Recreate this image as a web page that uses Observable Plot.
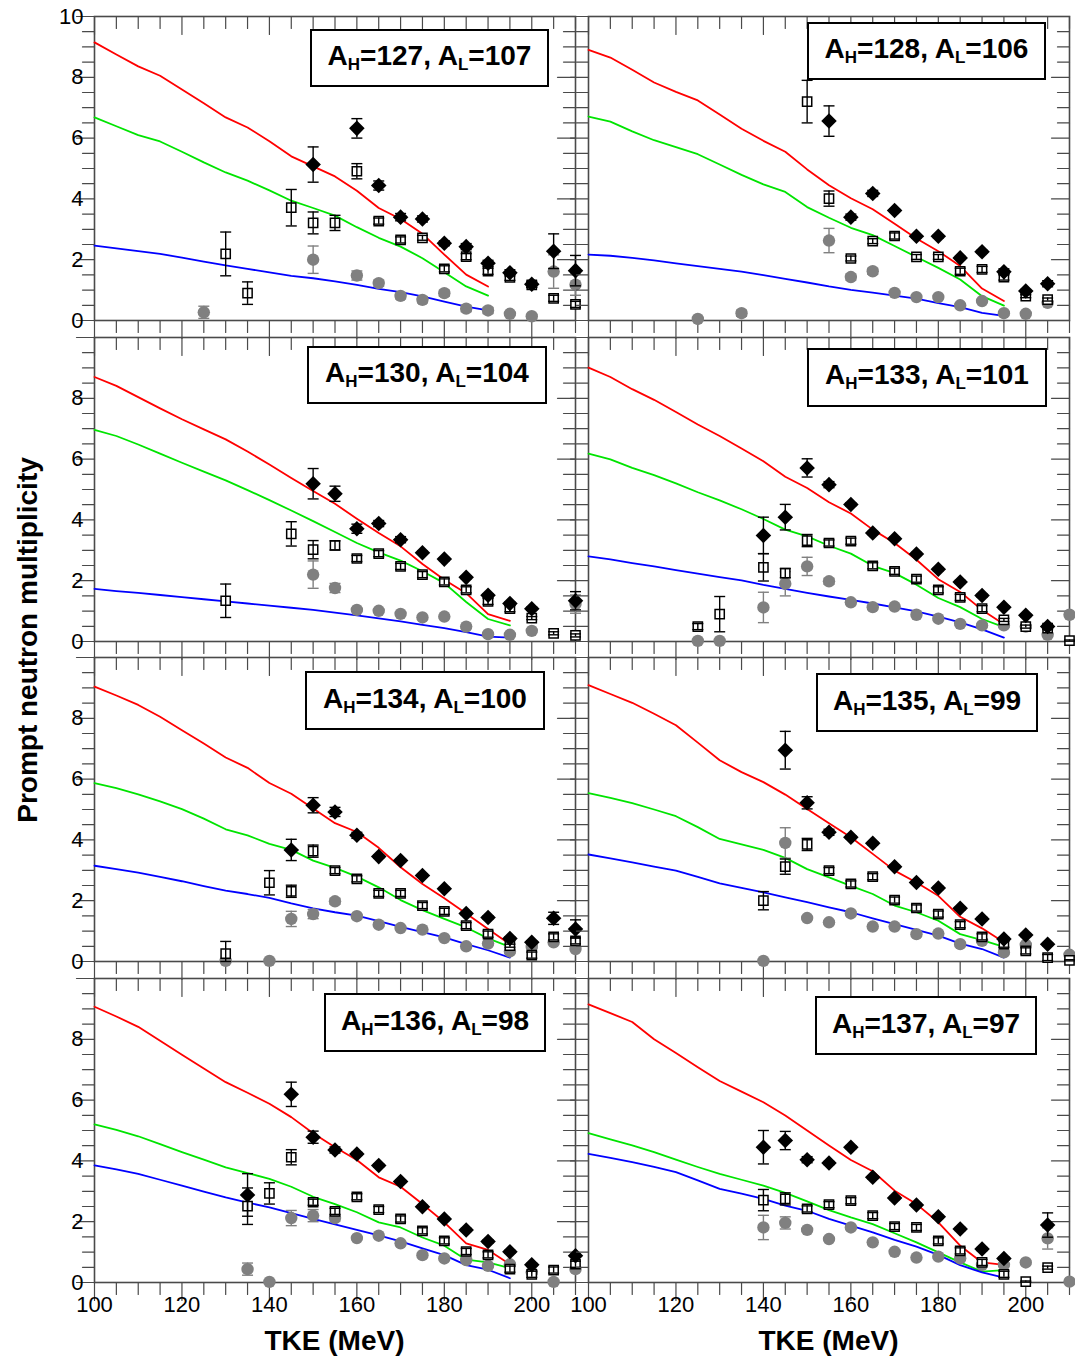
<!DOCTYPE html>
<html><head><meta charset="utf-8">
<script src="https://cdn.jsdelivr.net/npm/d3@7"></script>
<script src="https://cdn.jsdelivr.net/npm/@observablehq/plot@0.6"></script>
<style>
body{margin:0;background:#fff;}
#wrap{position:relative;width:1075px;height:1358px;overflow:hidden;font-family:"Liberation Sans",Arial,sans-serif;background:#fff;}
.panel{position:absolute;overflow:visible;}
.panel svg{max-width:none !important;overflow:visible;}
.tag{position:absolute;border:2px solid #000;background:#fff;box-sizing:border-box;display:flex;align-items:center;justify-content:center;font-weight:bold;font-size:28px;white-space:nowrap;color:#000;padding-bottom:4px;}
.tag .sb{font-size:17px;position:relative;top:9px;}
.xtitle{position:absolute;font-weight:bold;font-size:28px;text-align:center;line-height:32px;height:32px;color:#000;}
.ytitle{position:absolute;font-weight:bold;font-size:28px;text-align:center;line-height:34px;height:34px;width:420px;transform:rotate(-90deg);color:#000;}
</style></head><body><div id="wrap"></div>
<script>
// ---------- data ----------
const heavyMass = [127, 128, 130, 133, 134, 135, 136, 137];
const lightMass = [107, 106, 104, 101, 100, 99, 98, 97];
const xTickLabels = [100, 120, 140, 160, 180, 200];
const yTickLabels = [0, 2, 4, 6, 8, 10];
const xAxisTitle = "TKE (MeV)";
const yAxisTitle = "Prompt neutron multiplicity";

const lineTKE = [100,105,110,115,120,125,130,135,140,145,150,155,160,165,170,175,180,185,190,195];

const redCurves = [
  [9.15,8.75,8.36,8.05,7.60,7.15,6.68,6.35,5.90,5.40,5.07,4.74,4.27,3.70,3.34,2.85,2.17,1.51,1.12],
  [8.90,8.65,8.25,7.83,7.52,7.24,6.78,6.31,5.91,5.55,4.97,4.45,4.02,3.66,3.18,2.70,2.28,1.79,1.05,0.64],
  [8.70,8.41,8.04,7.67,7.31,6.98,6.65,6.25,5.82,5.38,4.95,4.53,4.04,3.57,3.13,2.55,2.03,1.59,0.90,0.68],
  [9.01,8.70,8.30,7.95,7.55,7.14,6.76,6.35,5.93,5.42,5.05,4.58,4.21,3.68,3.24,2.69,2.05,1.63,1.04,0.57],
  [9.04,8.75,8.44,8.05,7.61,7.17,6.71,6.37,5.87,5.52,5.03,4.55,4.26,3.74,3.10,2.55,2.08,1.58,1.07,0.57],
  [9.09,8.80,8.51,8.15,7.77,7.20,6.62,6.23,5.90,5.49,5.02,4.55,4.09,3.54,2.99,2.60,2.16,1.47,1.09,0.63],
  [9.07,8.75,8.41,7.95,7.49,7.04,6.59,6.24,5.88,5.44,4.91,4.45,4.03,3.46,3.15,2.58,1.98,1.29,1.07,0.60],
  [9.15,8.86,8.57,8.00,7.55,7.08,6.63,6.28,5.93,5.49,5.00,4.51,4.03,3.66,3.02,2.58,1.98,1.21,0.66,0.58]
];
const greenCurves = [
  [6.68,6.39,6.10,5.89,5.55,5.20,4.87,4.60,4.28,3.94,3.70,3.45,3.07,2.72,2.43,2.05,1.59,1.12,0.82],
  [6.71,6.54,6.22,5.93,5.70,5.47,5.13,4.79,4.48,4.23,3.73,3.38,3.05,2.81,2.45,2.09,1.73,1.35,0.80,0.49],
  [6.96,6.76,6.48,6.18,5.88,5.59,5.30,4.98,4.65,4.31,3.96,3.60,3.24,2.93,2.66,2.31,1.92,1.30,0.74,0.53],
  [6.18,5.99,5.71,5.47,5.20,4.91,4.64,4.35,4.03,3.68,3.46,3.15,2.89,2.49,2.25,1.87,1.43,1.13,0.74,0.47],
  [5.87,5.70,5.50,5.27,5.01,4.70,4.35,4.15,3.87,3.67,3.32,3.08,2.79,2.44,2.02,1.69,1.40,1.12,0.76,0.48],
  [5.54,5.38,5.21,5.00,4.78,4.42,4.03,3.85,3.67,3.41,3.04,2.77,2.49,2.22,1.84,1.62,1.34,0.90,0.70,0.48],
  [5.20,5.02,4.81,4.55,4.29,4.04,3.79,3.60,3.41,3.15,2.82,2.58,2.31,1.98,1.81,1.48,1.21,0.75,0.66,0.47],
  [4.91,4.71,4.51,4.29,4.04,3.80,3.57,3.38,3.19,2.95,2.67,2.38,2.14,1.92,1.62,1.32,0.99,0.66,0.36,0.41]
];
const blueCurves = [
  [2.46,2.37,2.28,2.19,2.07,1.94,1.81,1.70,1.58,1.47,1.39,1.29,1.17,1.04,0.93,0.79,0.62,0.46,0.33],
  [2.17,2.13,2.06,1.98,1.88,1.79,1.70,1.61,1.49,1.37,1.25,1.12,1.01,0.92,0.82,0.72,0.57,0.44,0.25,0.15],
  [1.73,1.66,1.60,1.53,1.46,1.39,1.32,1.25,1.18,1.11,1.04,0.95,0.86,0.76,0.66,0.55,0.44,0.31,0.16,0.13],
  [2.80,2.70,2.58,2.47,2.35,2.23,2.12,2.01,1.86,1.73,1.60,1.48,1.37,1.25,1.12,0.99,0.82,0.63,0.40,0.13],
  [3.15,3.04,2.92,2.78,2.64,2.48,2.33,2.22,2.09,1.91,1.75,1.62,1.51,1.33,1.14,0.97,0.79,0.57,0.37,0.13],
  [3.52,3.39,3.26,3.12,2.99,2.78,2.57,2.42,2.27,2.11,1.95,1.78,1.62,1.42,1.23,1.04,0.85,0.59,0.41,0.13],
  [3.85,3.72,3.57,3.38,3.19,2.99,2.80,2.63,2.47,2.28,2.09,1.91,1.73,1.55,1.35,1.12,0.90,0.57,0.42,0.14],
  [4.23,4.10,3.96,3.80,3.63,3.36,3.08,2.92,2.75,2.53,2.36,2.09,1.87,1.65,1.40,1.18,0.91,0.57,0.33,0.16]
];

// [TKE, multiplicity, error]
const diamonds127 = [[150,5.13,0.58],[160,6.32,0.32],[165,4.44,0.15],[170,3.40,0.12],[175,3.34,0.1],[180,2.54,0.08],[185,2.43,0.1],[190,1.88,0.1],[195,1.57,0.1],[200,1.19,0.1],[205,2.28,0.57],[210,1.64,0.5]];
const squares127 = [[130,2.19,0.72],[135,0.90,0.37],[145,3.71,0.6],[150,3.21,0.36],[155,3.21,0.25],[160,4.91,0.25],[165,3.27,0.1],[170,2.65,0.1],[175,2.72,0.08],[180,1.70,0.1],[185,2.10,0.1],[190,1.62,0.1],[195,1.42,0.1],[200,1.17,0.08],[205,0.73,0.1],[210,0.53,0.1]];
const circles127 = [[125,0.27,0.2],[150,2.00,0.45],[160,1.48,0.15],[165,1.23,0.1],[170,0.81,0.1],[175,0.68,0.1],[180,0.90,0.1],[185,0.39,0.1],[190,0.33,0.1],[195,0.22,0.05],[200,0.14,0.05],[205,1.61,0.55],[210,1.18,0.35]];

const diamonds128 = [[155,6.56,0.5],[160,3.40,0.1],[165,4.18,0.1],[170,3.62,0.05],[175,2.77,0.05],[180,2.77,0.05],[185,2.06,0.05],[190,2.26,0.05],[195,1.60,0.1],[200,0.97,0.05],[205,1.21,0.1]];
const squares128 = [[150,7.20,0.7],[155,4.01,0.25],[160,2.04,0.08],[165,2.61,0.08],[170,2.78,0.1],[175,2.09,0.08],[180,2.09,0.08],[185,1.62,0.1],[190,1.68,0.1],[195,1.43,0.1],[200,0.80,0.05],[205,0.69,0.05]];
const circles128 = [[125,0.05,0.03],[135,0.24,0.1],[155,2.63,0.4],[160,1.43,0.1],[165,1.62,0.1],[170,0.91,0.05],[175,0.77,0.05],[180,0.77,0.05],[185,0.50,0.05],[190,0.64,0.05],[195,0.24,0.05],[200,0.22,0.05],[205,0.58,0.05]];

const diamonds130 = [[150,5.19,0.5],[155,4.86,0.25],[160,3.71,0.15],[165,3.88,0.1],[170,3.35,0.1],[175,2.92,0.05],[180,2.71,0.05],[185,2.11,0.05],[190,1.52,0.05],[195,1.25,0.05],[200,1.08,0.05],[210,1.34,0.3]];
const squares130 = [[130,1.34,0.55],[145,3.54,0.4],[150,3.02,0.3],[155,3.16,0.15],[160,2.73,0.1],[165,2.89,0.1],[170,2.47,0.1],[175,2.20,0.1],[180,1.96,0.1],[185,1.70,0.1],[190,1.32,0.1],[195,1.08,0.1],[200,0.77,0.05],[205,0.27,0.05],[210,0.20,0.05]];
const circles130 = [[150,2.20,0.45],[155,1.76,0.15],[160,1.04,0.05],[165,1.01,0.05],[170,0.91,0.05],[175,0.79,0.05],[180,0.82,0.05],[185,0.49,0.05],[190,0.24,0.05],[195,0.22,0.05],[200,0.35,0.05],[210,1.23,0.3]];

const diamonds133 = [[140,3.49,0.6],[145,4.09,0.42],[150,5.71,0.3],[155,5.16,0.1],[160,4.51,0.05],[165,3.57,0.05],[170,3.38,0.05],[175,2.88,0.05],[180,2.38,0.05],[185,1.96,0.05],[190,1.51,0.05],[195,1.13,0.05],[200,0.86,0.05],[205,0.49,0.05]];
const squares133 = [[125,0.49,0.1],[130,0.90,0.58],[140,2.44,0.45],[145,2.25,0.15],[150,3.32,0.2],[155,3.24,0.1],[160,3.30,0.1],[165,2.49,0.1],[170,2.31,0.1],[175,2.05,0.1],[180,1.70,0.1],[185,1.45,0.1],[190,1.08,0.1],[195,0.71,0.05],[200,0.49,0.05],[205,0.44,0.05],[210,0.03,0.02]];
const circles133 = [[125,0.02,0],[130,0.02,0],[140,1.12,0.5],[145,1.90,0.4],[150,2.47,0.3],[155,1.98,0.1],[160,1.29,0.05],[165,1.13,0.05],[170,1.15,0.05],[175,0.88,0.05],[180,0.75,0.05],[185,0.58,0.05],[190,0.53,0.05],[195,0.53,0.05],[200,0.49,0.05],[205,0.22,0.05],[210,0.88,0.05]];

const diamonds134 = [[145,3.67,0.35],[150,5.14,0.25],[155,4.92,0.15],[160,4.15,0.1],[165,3.45,0.05],[170,3.32,0.05],[175,2.83,0.05],[180,2.39,0.05],[185,1.58,0.05],[190,1.45,0.05],[195,0.76,0.05],[200,0.63,0.05],[205,1.42,0.2],[210,1.07,0.3]];
const squares134 = [[130,0.26,0.4],[140,2.59,0.4],[145,2.31,0.2],[150,3.63,0.2],[155,2.99,0.1],[160,2.72,0.1],[165,2.24,0.1],[170,2.24,0.1],[175,1.84,0.1],[180,1.65,0.1],[185,1.18,0.1],[190,0.90,0.1],[195,0.52,0.05],[200,0.21,0.1],[205,0.81,0.1],[210,0.68,0.1]];
const circles134 = [[130,0.02,0],[140,0.02,0],[145,1.40,0.25],[150,1.56,0.15],[155,1.98,0.1],[160,1.49,0.05],[165,1.21,0.05],[170,1.10,0.05],[175,1.05,0.05],[180,0.77,0.05],[185,0.50,0.05],[190,0.59,0.05],[195,0.33,0.05],[200,0.48,0.05],[205,0.63,0.05],[210,0.41,0.05]];

const diamonds135 = [[145,6.95,0.62],[150,5.22,0.2],[155,4.25,0.1],[160,4.09,0.05],[165,3.89,0.05],[170,3.12,0.05],[175,2.60,0.05],[180,2.42,0.05],[185,1.75,0.05],[190,1.40,0.05],[195,0.74,0.05],[200,0.87,0.05],[205,0.57,0.05]];
const squares135 = [[140,2.00,0.3],[145,3.12,0.25],[150,3.85,0.2],[155,2.99,0.1],[160,2.55,0.1],[165,2.79,0.1],[170,2.02,0.1],[175,1.76,0.1],[180,1.56,0.1],[185,1.21,0.1],[190,0.81,0.1],[195,0.57,0.1],[200,0.35,0.1],[205,0.13,0.1],[210,0.04,0.02]];
const circles135 = [[140,0.02,0],[145,3.90,0.5],[150,1.43,0.05],[155,1.29,0.05],[160,1.58,0.05],[165,1.15,0.05],[170,1.15,0.05],[175,0.90,0.05],[180,0.92,0.05],[185,0.57,0.05],[190,0.68,0.05],[195,0.30,0.05],[200,0.55,0.05],[210,0.22,0.05]];

const diamonds136 = [[135,2.88,0.7],[145,6.19,0.4],[150,4.78,0.2],[155,4.36,0.1],[160,4.23,0.05],[165,3.85,0.05],[170,3.32,0.05],[175,2.49,0.05],[180,2.09,0.05],[185,1.73,0.05],[190,1.35,0.05],[195,1.01,0.05],[200,0.58,0.05],[210,0.88,0.05]];
const squares136 = [[135,2.51,0.6],[140,2.93,0.35],[145,4.12,0.25],[150,2.64,0.1],[155,2.34,0.1],[160,2.82,0.1],[165,2.40,0.1],[170,2.09,0.1],[175,1.70,0.1],[180,1.37,0.1],[185,1.02,0.1],[190,0.91,0.1],[195,0.44,0.1],[200,0.27,0.1],[205,0.41,0.1],[210,0.60,0.1]];
const circles136 = [[135,0.44,0.2],[140,0.02,0],[145,2.12,0.25],[150,2.20,0.2],[155,2.12,0.1],[160,1.46,0.05],[165,1.54,0.05],[170,1.29,0.05],[175,0.90,0.05],[180,0.79,0.05],[185,0.74,0.05],[190,0.55,0.05],[195,0.60,0.05],[200,0.33,0.05],[205,0.02,0],[210,0.44,0.05]];

const diamonds137 = [[140,4.45,0.55],[145,4.67,0.3],[150,4.04,0.1],[155,3.93,0.05],[160,4.45,0.05],[165,3.46,0.05],[170,2.78,0.05],[175,2.55,0.05],[180,2.16,0.05],[185,1.76,0.05],[190,1.10,0.05],[195,0.79,0.05],[205,1.89,0.4]];
const squares137 = [[140,2.71,0.35],[145,2.75,0.2],[150,2.42,0.1],[155,2.56,0.1],[160,2.69,0.1],[165,2.20,0.1],[170,1.84,0.1],[175,1.81,0.1],[180,1.37,0.1],[185,1.04,0.1],[190,0.66,0.1],[195,0.27,0.1],[200,0.03,0.02],[205,0.49,0.05]];
const circles137 = [[140,1.81,0.4],[145,1.96,0.2],[150,1.73,0.05],[155,1.43,0.05],[160,1.81,0.05],[165,1.32,0.05],[170,1.01,0.05],[175,0.82,0.05],[180,0.85,0.05],[185,0.79,0.05],[190,0.58,0.05],[195,0.58,0.05],[200,0.66,0.05],[205,1.45,0.35],[210,0.03,0]];

const diamondSets = [diamonds127, diamonds128, diamonds130, diamonds133, diamonds134, diamonds135, diamonds136, diamonds137];
const squareSets  = [squares127, squares128, squares130, squares133, squares134, squares135, squares136, squares137];
const circleSets  = [circles127, circles128, circles130, circles133, circles134, circles135, circles136, circles137];

// ---------- layout / style ----------
const COLX = [94, 588];
const ROWY = [16, 336.7, 657.3, 978];
const FW = 481, FH = 304;
const tagBoxes = [
  {l:216,t:13,w:239,h:58},{l:219,t:6,w:239,h:58},
  {l:213,t:9,w:240,h:58},{l:219,t:11,w:240,h:59},
  {l:211,t:14,w:240,h:59},{l:228,t:16,w:222,h:59},
  {l:230,t:15,w:222,h:59},{l:227,t:18,w:222,h:59}
];
const FONT = "'Liberation Sans', Arial, sans-serif";
const AXIS = "#4a4a4a";
const RED = "#ff0000", GREEN = "#00e400", BLUE = "#0000ff", GRAY = "#808080";

const xMinor = d3.range(100, 210.1, 5);
const yMinor = d3.range(0, 10.01, 0.5);

const tickShape = {draw(ctx, l) { ctx.moveTo(0, 0); ctx.lineTo(0, -l); }};
const capSymbol = {draw(ctx) { ctx.moveTo(-5.5, 0); ctx.lineTo(5.5, 0); }};

function toRows(set) {
  return set.map(([x, y, e]) => ({x, y, e, lo: Math.max(0, y - e), hi: y + e}));
}
function curveRows(vals) {
  return vals.map((v, i) => ({x: lineTKE[i], y: v}));
}
function errorMarks(rows, color) {
  const r = rows.filter(d => d.e > 0);
  return [
    Plot.ruleX(r, {x: "x", y1: "lo", y2: "hi", stroke: color, strokeWidth: 1.4}),
    Plot.dot(r, {x: "x", y: "hi", symbol: capSymbol, r: 5, fill: "none", stroke: color, strokeWidth: 1.4}),
    Plot.dot(r, {x: "x", y: "lo", symbol: capSymbol, r: 5, fill: "none", stroke: color, strokeWidth: 1.4})
  ];
}

const wrap = document.getElementById("wrap");

for (let i = 0; i < 8; i++) {
  const col = i % 2, row = Math.floor(i / 2);
  const mL = col === 0 ? 62 : 14, mR = 14;
  const mT = row === 0 ? 16 : 14, mB = row === 3 ? 44 : 14;
  const yLabs = row === 0 ? yTickLabels : yTickLabels.filter(v => v < 10);

  const circ = toRows(circleSets[i]);
  const sq = toRows(squareSets[i]);
  const dia = toRows(diamondSets[i]);

  const marks = [
    // inward ticks: top and right
    Plot.vector(xMinor, {x: d => d, frameAnchor: "top", length: d => d % 20 === 0 ? 6 : 4, rotate: 180, anchor: "start", shape: tickShape, stroke: AXIS, strokeWidth: 1.2}),
    Plot.vector(yMinor, {y: d => d, frameAnchor: "right", length: d => d % 2 === 0 ? 6 : 4, rotate: -90, anchor: "start", shape: tickShape, stroke: AXIS, strokeWidth: 1.2}),
    // outward ticks: bottom and left
    Plot.vector(xMinor, {x: d => d, frameAnchor: "bottom", length: d => d % 20 === 0 ? 6 : 4, rotate: 180, anchor: "start", shape: tickShape, stroke: AXIS, strokeWidth: 1.2}),
    Plot.vector(yMinor, {y: d => d, frameAnchor: "left", length: d => d % 2 === 0 ? 6 : 4, rotate: -90, anchor: "start", shape: tickShape, stroke: AXIS, strokeWidth: 1.2}),
    Plot.frame({stroke: AXIS, strokeWidth: 1.6}),
    Plot.line(curveRows(redCurves[i]), {x: "x", y: "y", stroke: RED, strokeWidth: 1.8}),
    Plot.line(curveRows(greenCurves[i]), {x: "x", y: "y", stroke: GREEN, strokeWidth: 1.8}),
    Plot.line(curveRows(blueCurves[i]), {x: "x", y: "y", stroke: BLUE, strokeWidth: 1.8}),
    Plot.dot(circ, {x: "x", y: "y", r: 6.2, symbol: "circle", fill: GRAY, stroke: "none"}),
    ...errorMarks(circ, GRAY),
    Plot.dot(sq, {x: "x", y: "y", r: 5.2, symbol: "square", fill: "white", stroke: "black", strokeWidth: 1.5}),
    ...errorMarks(sq, "black"),
    Plot.dot(dia, {x: "x", y: "y", r: 7, symbol: "diamond2", fill: "black", stroke: "none"}),
    ...errorMarks(dia, "black")
  ];
  if (col === 0) {
    marks.push(Plot.text(yLabs, {y: d => d, frameAnchor: "left", dx: -11, textAnchor: "end", text: d => String(d), fontSize: 22, fill: "black"}));
  }
  if (row === 3) {
    marks.push(Plot.text(xTickLabels, {x: d => d, frameAnchor: "bottom", dy: 14, lineAnchor: "top", text: d => String(d), fontSize: 22, fill: "black"}));
  }

  const W = FW + mL + mR, H = FH + mT + mB;
  const chart = Plot.plot({
    width: W, height: H,
    marginLeft: mL, marginRight: mR, marginTop: mT, marginBottom: mB,
    axis: null,
    x: {domain: [100, 210]},
    y: {domain: [0, 10]},
    style: {fontFamily: FONT, background: "transparent", overflow: "visible", color: "black"},
    marks
  });
  const div = document.createElement("div");
  div.className = "panel";
  div.style.left = (COLX[col] - mL) + "px";
  div.style.top = (ROWY[row] - mT) + "px";
  div.style.width = W + "px";
  div.style.height = H + "px";
  div.appendChild(chart);
  wrap.appendChild(div);
}

// label boxes
for (let i = 0; i < 8; i++) {
  const col = i % 2, row = Math.floor(i / 2);
  const b = tagBoxes[i];
  const tag = document.createElement("div");
  tag.className = "tag";
  tag.style.left = (COLX[col] + b.l) + "px";
  tag.style.top = (ROWY[row] + b.t) + "px";
  tag.style.width = b.w + "px";
  tag.style.height = b.h + "px";
  tag.innerHTML = `A<span class="sb">H</span>=${heavyMass[i]}, A<span class="sb">L</span>=${lightMass[i]}`;
  wrap.appendChild(tag);
}

// axis titles
for (let c = 0; c < 2; c++) {
  const t = document.createElement("div");
  t.className = "xtitle";
  t.style.left = COLX[c] + "px";
  t.style.width = FW + "px";
  t.style.top = "1325px";
  t.textContent = xAxisTitle;
  wrap.appendChild(t);
}
const yt = document.createElement("div");
yt.className = "ytitle";
yt.style.left = (28 - 210) + "px";
yt.style.top = (640 - 17) + "px";
yt.textContent = yAxisTitle;
wrap.appendChild(yt);
</script></body></html>
